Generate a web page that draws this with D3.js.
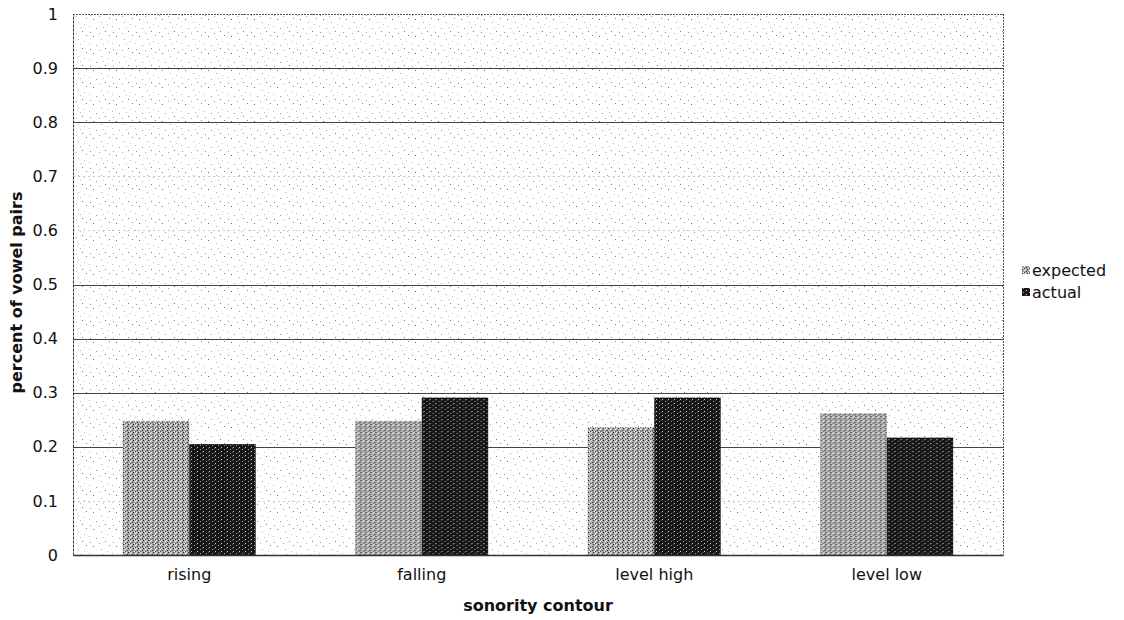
<!DOCTYPE html>
<html>
<head>
<meta charset="utf-8">
<script src="https://cdn.jsdelivr.net/npm/d3@7"></script>
<style>
  html, body { margin: 0; padding: 0; background: #fff; }
  svg { display: block; font-family: "DejaVu Sans", Verdana, sans-serif; }
</style>
</head>
<body>
<svg id="chart" width="1124" height="620"></svg>
<script>
// Share of vowel pairs by sonority contour
const categories = ["rising", "falling", "level high", "level low"];
const seriesNames = ["expected", "actual"];
const expectedValues = [0.248, 0.248, 0.236, 0.262];
const actualValues = [0.205, 0.291, 0.291, 0.217];
const yTicks = [0, 0.1, 0.2, 0.3, 0.4, 0.5, 0.6, 0.7, 0.8, 0.9, 1];
const yTickLabels = ["0", "0.1", "0.2", "0.3", "0.4", "0.5", "0.6", "0.7", "0.8", "0.9", "1"];
const xTitle = "sonority contour";
const yTitle = "percent of vowel pairs";

const rows = categories.map((c, i) => ({
  category: c,
  values: [
    { series: "expected", value: expectedValues[i] },
    { series: "actual", value: actualValues[i] }
  ]
}));

const svg = d3.select("#chart");
const plot = { left: 73, right: 1003, top: 14, bottom: 555 };

const y = d3.scaleLinear().domain([0, 1]).range([plot.bottom, plot.top]);
const x0 = d3.scaleBand().domain(categories).range([plot.left, plot.right]).padding(0);
const x1 = d3.scaleBand().domain(seriesNames).range([0, x0.bandwidth()])
  .paddingInner(0).paddingOuter(0.75);

// Textures: speckled plot background and grainy bar fills
const defs = svg.append("defs");
const bg = defs.append("pattern").attr("id", "speckle")
  .attr("width", 23).attr("height", 17).attr("patternUnits", "userSpaceOnUse");
bg.append("rect").attr("width", 23).attr("height", 17).attr("fill", "#fff");
[[1, 2, "#666"], [9, 5, "#aaa"], [17, 1, "#888"], [4, 11, "#999"], [13, 14, "#777"],
 [20, 9, "#bbb"], [7, 16, "#aaa"], [15, 7, "#c4c4c4"], [21, 15, "#999"], [11, 10, "#bbb"]]
  .forEach(([px, py, c]) =>
    bg.append("rect").attr("x", px).attr("y", py).attr("width", 1).attr("height", 1).attr("fill", c));

const lightTex = defs.append("pattern").attr("id", "tex-expected")
  .attr("width", 5).attr("height", 4).attr("patternUnits", "userSpaceOnUse");
lightTex.append("rect").attr("width", 5).attr("height", 4).attr("fill", "#a6a6a6");
[[0, 0, "#2a2a2a"], [2, 1, "#ffffff"], [4, 2, "#3a3a3a"], [1, 3, "#f0f0f0"], [3, 0, "#e8e8e8"], [2, 3, "#555"]]
  .forEach(([px, py, c]) =>
    lightTex.append("rect").attr("x", px).attr("y", py).attr("width", 1).attr("height", 1).attr("fill", c));

const darkTex = defs.append("pattern").attr("id", "tex-actual")
  .attr("width", 6).attr("height", 4).attr("patternUnits", "userSpaceOnUse");
darkTex.append("rect").attr("width", 6).attr("height", 4).attr("fill", "#161616");
[[1, 1, "#9a9a9a"], [4, 3, "#cfcfcf"], [3, 0, "#555"]].forEach(([px, py, c]) =>
  darkTex.append("rect").attr("x", px).attr("y", py).attr("width", 1).attr("height", 1).attr("fill", c));

const fills = { expected: "url(#tex-expected)", actual: "url(#tex-actual)" };

// Plot area
svg.append("rect")
  .attr("x", plot.left).attr("y", plot.top)
  .attr("width", plot.right - plot.left).attr("height", plot.bottom - plot.top)
  .attr("fill", "url(#speckle)");

// Gridlines (some printed faintly)
const faintTicks = new Set([0.1, 0.6, 0.7]);
svg.append("g").selectAll("line")
  .data(yTicks.filter(t => t > 0 && t < 1))
  .join("line")
  .attr("x1", plot.left).attr("x2", plot.right)
  .attr("y1", d => Math.round(y(d)) + 0.5).attr("y2", d => Math.round(y(d)) + 0.5)
  .attr("stroke", d => faintTicks.has(d) ? "#c8c8c8" : "#444")
  .attr("stroke-width", 1)
  .attr("stroke-dasharray", d => faintTicks.has(d) ? "2,3" : null);

// Border: dotted top/right
svg.append("line").attr("x1", plot.left).attr("x2", plot.right)
  .attr("y1", plot.top + 0.5).attr("y2", plot.top + 0.5)
  .attr("stroke", "#555").attr("stroke-dasharray", "2,1");
svg.append("line").attr("x1", plot.right + 0.5).attr("x2", plot.right + 0.5)
  .attr("y1", plot.top).attr("y2", plot.bottom)
  .attr("stroke", "#555").attr("stroke-dasharray", "2,1");

// Bars
const groups = svg.append("g").selectAll("g")
  .data(rows).join("g")
  .attr("transform", d => `translate(${x0(d.category)},0)`);
groups.selectAll("rect")
  .data(d => d.values).join("rect")
  .attr("x", d => x1(d.series))
  .attr("y", d => y(d.value))
  .attr("width", x1.bandwidth())
  .attr("height", d => y(0) - y(d.value))
  .attr("fill", d => fills[d.series]);

// Y axis
const yAxis = d3.axisLeft(y).tickValues(yTicks)
  .tickFormat((d, i) => yTickLabels[i]).tickSize(0).tickPadding(15);
const gy = svg.append("g").attr("transform", `translate(${plot.left},0)`).call(yAxis);
gy.select(".domain").attr("stroke", "#333").attr("stroke-dasharray", "3,1");
gy.selectAll("text").attr("font-size", 16).attr("fill", "#111")
  .attr("font-family", "DejaVu Sans, Verdana, sans-serif");

// X axis
const xAxis = d3.axisBottom(x0).tickSize(0).tickPadding(14);
const gx = svg.append("g").attr("transform", `translate(0,${plot.bottom})`).call(xAxis);
gx.select(".domain").attr("stroke", "#333").attr("stroke-width", 1.5);
gx.selectAll("text").attr("font-size", 16).attr("fill", "#111")
  .attr("font-family", "DejaVu Sans, Verdana, sans-serif");

// Axis titles
svg.append("text")
  .attr("x", (plot.left + plot.right) / 2).attr("y", 611)
  .attr("text-anchor", "middle").attr("font-size", 16).attr("font-weight", "bold")
  .attr("fill", "#111").text(xTitle);
svg.append("text")
  .attr("transform", `translate(22,${(plot.top + plot.bottom) / 2 + 8}) rotate(-90)`)
  .attr("text-anchor", "middle").attr("font-size", 16).attr("font-weight", "bold")
  .attr("fill", "#111").text(yTitle);

// Legend
const legend = svg.append("g").attr("transform", "translate(1022,265)");
const items = legend.selectAll("g").data(seriesNames).join("g")
  .attr("transform", (d, i) => `translate(0,${i * 22})`);
items.append("rect").attr("x", 0).attr("y", 1).attr("width", 8).attr("height", 8)
  .attr("fill", d => fills[d]);
items.append("text").attr("x", 10).attr("y", 11)
  .attr("font-size", 16).attr("fill", "#111").text(d => d);
</script>
</body>
</html>
